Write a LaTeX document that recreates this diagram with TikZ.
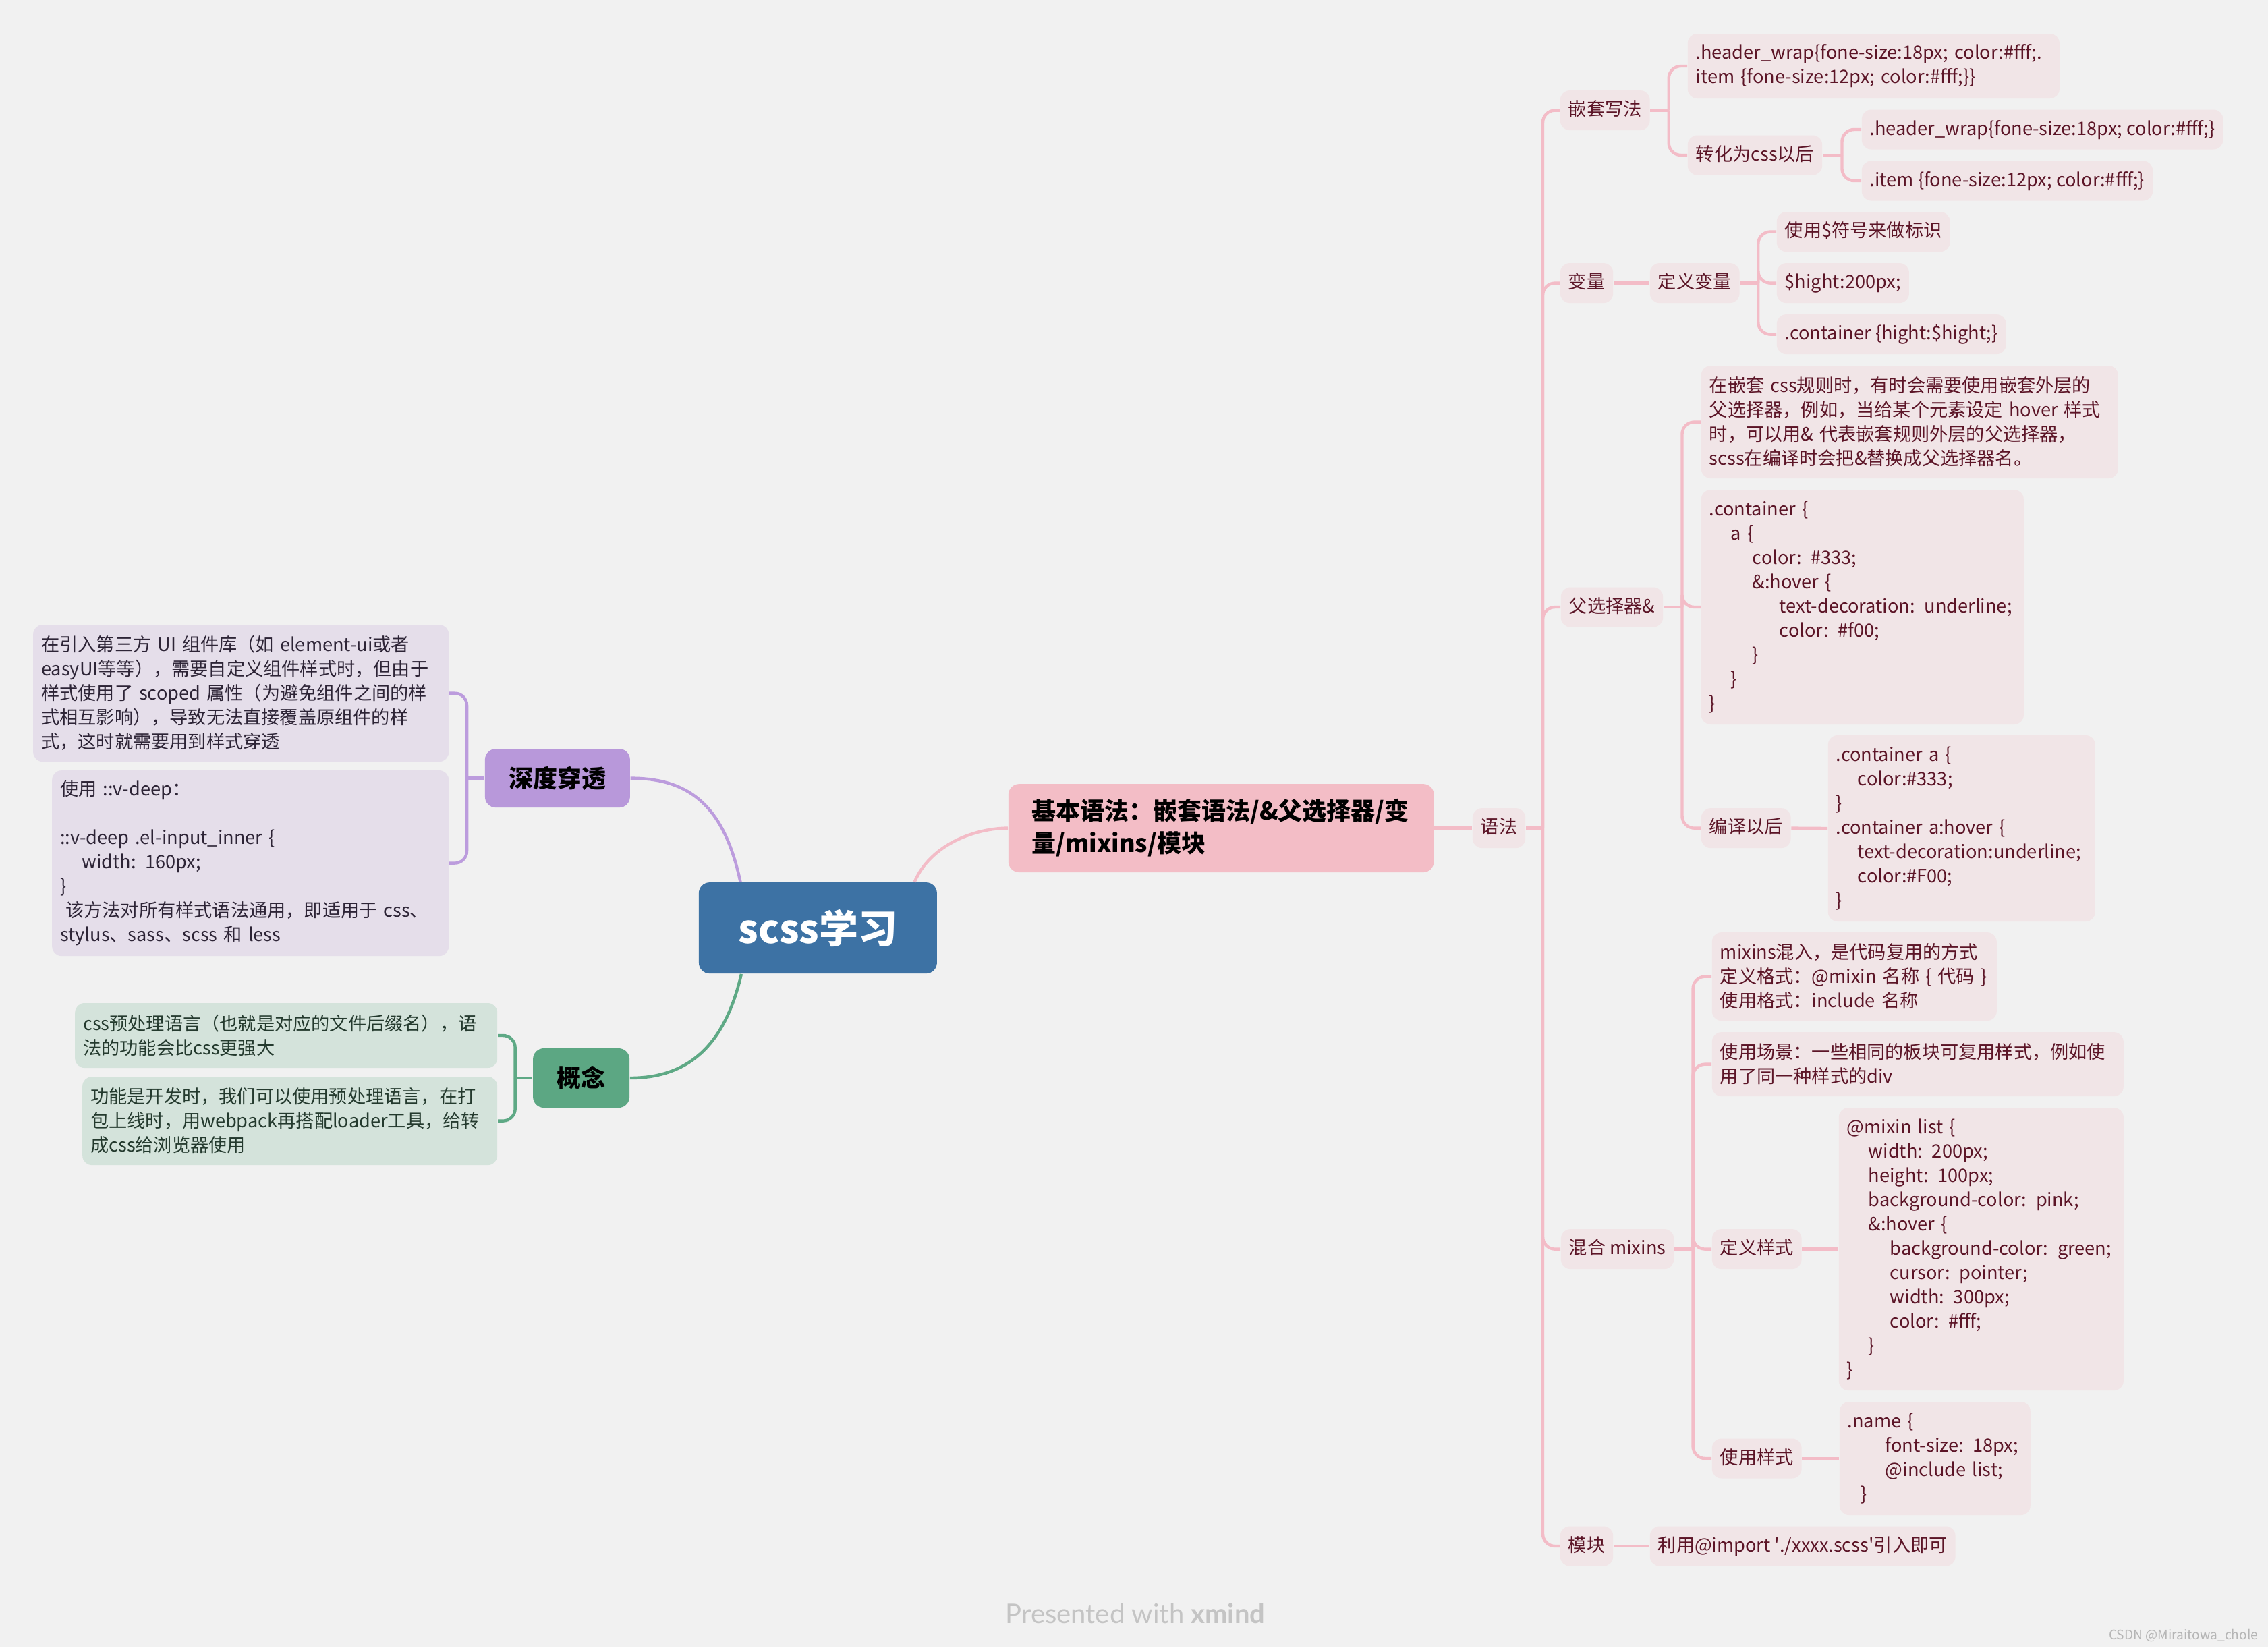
\documentclass[tikz,border=0pt]{standalone}
\usepackage{fontspec}
\setmainfont{Noto Sans CJK SC}
\newfontfamily\latofont{Lato}
\usetikzlibrary{calc}
\definecolor{bg}{HTML}{F1F1F1}
\definecolor{rootfill}{HTML}{3D72A4}
\definecolor{pkmain}{HTML}{F3BDC6}
\definecolor{pkline}{HTML}{F3BCC7}
\definecolor{pkbox}{HTML}{F1E5E7}
\definecolor{pktext}{HTML}{5C1527}
\definecolor{pumain}{HTML}{B898DA}
\definecolor{puline}{HTML}{BC9CDD}
\definecolor{pubox}{HTML}{E5DEEA}
\definecolor{putext}{HTML}{2D2436}
\definecolor{grmain}{HTML}{5CA783}
\definecolor{grline}{HTML}{5EA985}
\definecolor{grbox}{HTML}{D4E3DB}
\definecolor{grtext}{HTML}{243A2E}
\definecolor{footgrey}{HTML}{C4C4C4}
\definecolor{wmgrey}{HTML}{B5B5B5}
\newcommand\fsz{\fontsize{6.8}{9}\selectfont}
\begin{document}
\begin{tikzpicture}[x=1pt,y=-1pt,
  base/.style={rectangle, rounded corners=3.5pt, inner xsep=3pt, inner ysep=0pt, font=\fsz, align=left, anchor=west},
  pk/.style={base, fill=pkbox, text=pktext},
  pu/.style={base, fill=pubox, text=putext, anchor=east},
  gr/.style={base, fill=grbox, text=grtext, anchor=east},
  one/.style={minimum height=14.75pt, text height=5.4pt, text depth=1.4pt},
  topic/.style={rectangle, rounded corners=4pt, font=\fontsize{9}{11}\selectfont\bfseries, text=black, inner sep=0pt},
  pkc/.style={draw=pkline, line width=1.1pt, rounded corners=4.5pt},
  puc/.style={draw=puline, line width=1.1pt, rounded corners=4.5pt},
  grc/.style={draw=grline, line width=1.1pt, rounded corners=4.5pt}
]
\fill[bg] (0,0) rectangle (840.5,610.5);
\useasboundingbox (0,0) rectangle (840.5,610.5);

% ---------- root and main topics ----------
\node[rectangle, rounded corners=4pt, fill=rootfill, text=white, font=\fontsize{14.5}{17}\selectfont\bfseries, minimum width=88.25pt, minimum height=33.75pt] (root) at (303.1,343.9) {scss学习};

\node[rectangle, rounded corners=4pt, fill=pkmain, font=\fontsize{9}{12}\selectfont\bfseries, text width=140.5pt, align=left, minimum height=32.75pt, inner xsep=8.6pt, inner ysep=0pt, anchor=west] (main) at (373.5,306.9) {基本语法：嵌套语法/\&父选择器/变\\量/mixins/模块};

\node[topic, fill=pumain, minimum width=53.75pt, minimum height=21.75pt] (shendu) at (206.6,288.4) {深度穿透};
\node[topic, fill=grmain, minimum width=35.75pt, minimum height=22pt] (gainian) at (215.4,399.5) {概念};

% ---------- left boxes ----------
\node[pu, text width=148pt, minimum height=50.75pt] (sd1) at (166.5,256.9) {在引入第三方 UI 组件库（如 element-ui或者\\easyUI等等），需要自定义组件样式时，但由于\\样式使用了 scoped 属性（为避免组件之间的样\\式相互影响），导致无法直接覆盖原组件的样\\式，这时就需要用到样式穿透};
\node[pu, text width=141pt, minimum height=68.75pt] (sd2) at (166.5,319.9) {使用 ::v-deep：\\\mbox{}\\::v-deep .el-input\_inner \{\\\hspace*{8pt}width: 160px;\\\}\\\hspace*{2pt}该方法对所有样式语法通用，即适用于 css、\\stylus、sass、scss 和 less};

\node[gr, text width=150.5pt, minimum height=24pt] (gn1) at (184.5,383.75) {css预处理语言（也就是对应的文件后缀名），语\\法的功能会比css更强大};
\node[gr, text width=147.75pt, minimum height=32.75pt] (gn2) at (184.5,415.4) {功能是开发时，我们可以使用预处理语言，在打\\包上线时，用webpack再搭配loader工具，给转\\成css给浏览器使用};

% ---------- right tree ----------
\node[pk, one] (yufa) at (545.5,306.9) {语法};

\node[pk, one] (qiantao) at (578,40.9) {嵌套写法};
\node[pk, one] (bianliang) at (578,104.9) {变量};
\node[pk, one] (fuxz) at (578.25,225) {父选择器\&};
\node[pk, one] (hunhe) at (578.25,462.9) {混合 mixins};
\node[pk, one] (mokuai) at (578,573) {模块};

\node[pk, text width=131.75pt, minimum height=24pt] (qt1) at (625.25,24.5) {.header\_wrap\{fone-size:18px; color:\#fff;.\\item \{fone-size:12px; color:\#fff;\}\}};
\node[pk, one] (zhuan) at (625.25,57.5) {转化为css以后};
\node[pk, one] (hw) at (689.75,48) {.header\_wrap\{fone-size:18px; color:\#fff;\}};
\node[pk, one] (it) at (689.75,67) {.item \{fone-size:12px; color:\#fff;\}};

\node[pk, one] (dingyi) at (611.25,104.9) {定义变量};
\node[pk, one] (v1) at (658.25,85.9) {使用\$符号来做标识};
\node[pk, one] (v2) at (658.25,104.9) {\$hight:200px;};
\node[pk, one] (v3) at (658.25,123.9) {.container \{hight:\$hight;\}};

\node[pk, text width=148.5pt, minimum height=41.75pt] (fx1) at (630.25,156.4) {在嵌套 css规则时，有时会需要使用嵌套外层的\\父选择器，例如，当给某个元素设定 hover 样式\\时，可以用\& 代表嵌套规则外层的父选择器，\\scss在编译时会把\&替换成父选择器名。};
\node[pk, text width=113.5pt, minimum height=87pt] (fx2) at (630.25,225) {.container \{\\\hspace*{8pt}a \{\\\hspace*{16pt}color: \#333;\\\hspace*{16pt}\&:hover \{\\\hspace*{26pt}text-decoration: underline;\\\hspace*{26pt}color: \#f00;\\\hspace*{16pt}\}\\\hspace*{8pt}\}\\\}};
\node[pk, one] (bianyi) at (630.25,306.9) {编译以后};
\node[pk, text width=93pt, minimum height=69pt] (fx3) at (677.25,307) {.container a \{\\\hspace*{8pt}color:\#333;\\\}\\.container a:hover \{\\\hspace*{8pt}text-decoration:underline;\\\hspace*{8pt}color:\#F00;\\\}};

\node[pk, text width=99.5pt, minimum height=32.75pt] (mx1) at (634.25,361.9) {mixins混入，是代码复用的方式\\定义格式：@mixin 名称 \{ 代码 \}\\使用格式：include 名称};
\node[pk, text width=146.5pt, minimum height=23.75pt] (mx2) at (634.25,394.4) {使用场景：一些相同的板块可复用样式，例如使\\用了同一种样式的div};
\node[pk, one] (dys) at (634.25,462.9) {定义样式};
\node[pk, text width=99.5pt, minimum height=104.75pt] (mx3) at (681.25,462.9) {@mixin list \{\\\hspace*{8pt}width: 200px;\\\hspace*{8pt}height: 100px;\\\hspace*{8pt}background-color: pink;\\\hspace*{8pt}\&:hover \{\\\hspace*{16pt}background-color: green;\\\hspace*{16pt}cursor: pointer;\\\hspace*{16pt}width: 300px;\\\hspace*{16pt}color: \#fff;\\\hspace*{8pt}\}\\\}};
\node[pk, one] (sys) at (634.25,540.5) {使用样式};
\node[pk, text width=64.75pt, minimum height=42pt] (mx4) at (681.5,540.5) {.name \{\\\hspace*{14pt}font-size: 18px;\\\hspace*{14pt}@include list;\\\hspace*{5pt}\}};
\node[pk, one] (imp) at (611.25,573) {利用@import \textquotesingle./xxxx.scss\textquotesingle 引入即可};

% ---------- connectors from root ----------
\draw[pkc] ($(root.north west)!0.904!(root.north east)$) .. controls +(6,-14) and +(-12,0) .. (main.west);
\draw[puc] ($(root.north west)!0.176!(root.north east)$) .. controls +(-6,-28) and +(22,0) .. (shendu.east);
\draw[grc] ($(root.south west)!0.18!(root.south east)$) .. controls +(-6,26) and +(22,0) .. (gainian.east);

% ---------- left brackets ----------
\coordinate (ss) at ($(shendu.west)!0.5!(shendu.west -| sd1.east)$);
\draw[puc] (shendu.west) -- (ss);
\foreach \c in {sd1,sd2} \draw[puc] (ss) |- (\c.east);
\coordinate (gs) at ($(gainian.west)!0.5!(gainian.west -| gn1.east)$);
\draw[grc] (gainian.west) -- (gs);
\foreach \c in {gn1,gn2} \draw[grc] (gs) |- (\c.east);

% ---------- right tree connectors ----------
\draw[pkc] (main.east) -- (yufa.west);
\coordinate (ys) at ($(yufa.east)!0.5!(yufa.east -| qiantao.west)$);
\draw[pkc] (yufa.east) -- (ys);
\foreach \c in {qiantao,bianliang,fuxz,hunhe,mokuai} \draw[pkc] (ys) |- (\c.west);

\coordinate (qs) at ($(qiantao.east)!0.5!(qiantao.east -| qt1.west)$);
\draw[pkc] (qiantao.east) -- (qs);
\foreach \c in {qt1,zhuan} \draw[pkc] (qs) |- (\c.west);
\coordinate (zs) at ($(zhuan.east)!0.5!(zhuan.east -| hw.west)$);
\draw[pkc] (zhuan.east) -- (zs);
\foreach \c in {hw,it} \draw[pkc] (zs) |- (\c.west);

\draw[pkc] (bianliang.east) -- (dingyi.west);
\coordinate (ds) at ($(dingyi.east)!0.5!(dingyi.east -| v1.west)$);
\draw[pkc] (dingyi.east) -- (ds);
\foreach \c in {v1,v2,v3} \draw[pkc] (ds) |- (\c.west);

\coordinate (fs) at ($(fuxz.east)!0.5!(fuxz.east -| fx1.west)$);
\draw[pkc] (fuxz.east) -- (fs);
\foreach \c in {fx1,fx2,bianyi} \draw[pkc] (fs) |- (\c.west);
\draw[pkc] (bianyi.east) -- (fx3.west);

\coordinate (hs) at ($(hunhe.east)!0.5!(hunhe.east -| mx1.west)$);
\draw[pkc] (hunhe.east) -- (hs);
\foreach \c in {mx1,mx2,dys,sys} \draw[pkc] (hs) |- (\c.west);
\draw[pkc] (dys.east) -- (mx3.west);
\draw[pkc] (sys.east) -- (mx4.west);

\draw[pkc] (mokuai.east) -- (imp.west);

% ---------- footer ----------
\node[font=\latofont\fontsize{10}{12}\selectfont, text=footgrey, inner sep=0pt] (foot) at (420.75,598) {Presented with \textbf{xmind}};
\node[anchor=east, font=\fontsize{4.8}{6}\selectfont, text=wmgrey, inner sep=0pt] (wm) at (837,606) {CSDN @Miraitowa\_chole};
\end{tikzpicture}
\end{document}
